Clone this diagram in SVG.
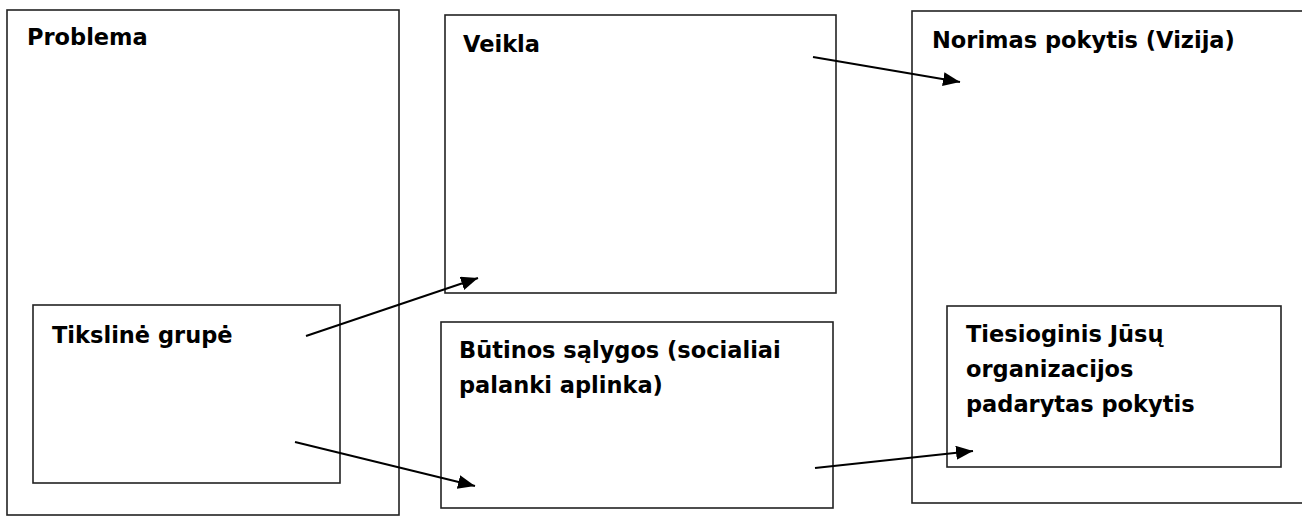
<svg xmlns="http://www.w3.org/2000/svg" width="1302" height="516" viewBox="0 0 1302 516">
<style>
.box{fill:none;stroke:#222;stroke-width:1.6}
.lbl{font-family:"DejaVu Sans",sans-serif;font-weight:bold;font-size:22.5px;fill:#000}
.con{stroke:#000;stroke-width:2;fill:none;marker-end:url(#ah)}
</style>
<defs>
<marker id="ah" markerUnits="userSpaceOnUse" markerWidth="20" markerHeight="16" refX="17" refY="7" orient="auto">
<path d="M0,0 L17,7 L0,14 Z" fill="#000"/>
</marker>
</defs>
<rect width="1302" height="516" fill="#fff"/>
<g id="problema">
<rect class="box" x="7" y="10" width="392" height="505"/>
<text class="lbl" x="27" y="45">Problema</text>
</g>
<g id="tiksline-grupe">
<rect class="box" x="33" y="305" width="307" height="178"/>
<text class="lbl" x="52" y="343">Tikslinė grupė</text>
</g>
<g id="veikla">
<rect class="box" x="445" y="15" width="391" height="278"/>
<text class="lbl" x="463" y="52">Veikla</text>
</g>
<g id="butinos-salygos">
<rect class="box" x="441" y="322" width="392" height="186"/>
<text class="lbl" x="459" y="358">Būtinos sąlygos (socialiai</text>
<text class="lbl" x="459" y="393">palanki aplinka)</text>
</g>
<g id="norimas-pokytis">
<rect class="box" x="912" y="11" width="392" height="492"/>
<text class="lbl" x="932" y="48">Norimas pokytis (Vizija)</text>
</g>
<g id="tiesioginis-pokytis">
<rect class="box" x="947" y="306" width="334" height="161"/>
<text class="lbl" x="966" y="342">Tiesioginis Jūsų</text>
<text class="lbl" x="966" y="377">organizacijos</text>
<text class="lbl" x="966" y="412">padarytas pokytis</text>
</g>
<g id="connectors">
<line class="con" x1="306" y1="336" x2="478" y2="278"/>
<line class="con" x1="295" y1="442" x2="475" y2="486"/>
<line class="con" x1="813" y1="57" x2="960" y2="82"/>
<line class="con" x1="815" y1="468" x2="973" y2="451"/>
</g>
</svg>
